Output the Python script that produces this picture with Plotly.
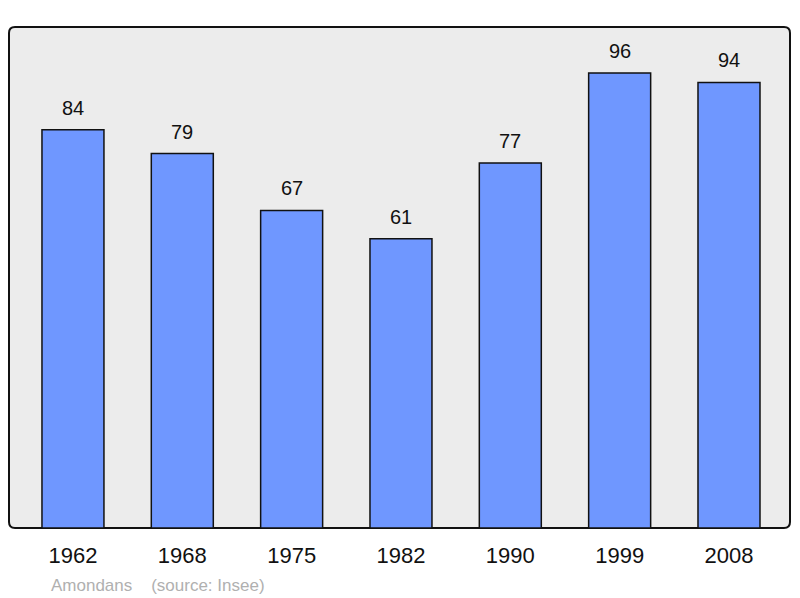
import plotly.graph_objects as go

years = ["1962", "1968", "1975", "1982", "1990", "1999", "2008"]
population = [84, 79, 67, 61, 77, 96, 94]
commune = "Amondans"
source = "(source: Insee)"

# page body has an 8px margin; shrink figure so plot sits where reference has it
OFF = 8
W, H = 800 - OFF, 598 - OFF
L, R, T, B = 9 - OFF, 10, 27 - OFF, 70
pw, ph = W - L - R, H - T - B

fig = go.Figure()
fig.add_trace(go.Bar(
    x=years, y=population, width=0.567,
    marker=dict(color="#6f97ff", line=dict(color="#111111", width=1.5)),
    hoverinfo="x+y",
))

for i, v in enumerate(population):
    fig.add_annotation(x=i, y=v, text=str(v), showarrow=False,
                       yanchor="bottom", yshift=9,
                       font=dict(size=20, color="#111111"))

# rounded plot frame
r = 6
rx, ry = r / pw, r / ph
path = (f"M {rx} 0 L {1-rx} 0 Q 1 0 1 {ry} L 1 {1-ry} Q 1 1 {1-rx} 1 "
        f"L {rx} 1 Q 0 1 0 {1-ry} L 0 {ry} Q 0 0 {rx} 0 Z")
fig.add_shape(type="path", path=path, xref="paper", yref="paper",
              fillcolor="#ececec", line=dict(color="#111111", width=2),
              layer="below")

fig.add_annotation(x=(49 - OFF - L) / pw, y=-(585 - OFF - T - ph) / ph,
                   xref="paper", yref="paper",
                   xanchor="left", yanchor="middle", showarrow=False,
                   text=f"{commune}&nbsp;&nbsp;&nbsp;&nbsp;{source}",
                   font=dict(size=17, color="#b0b0b0"))

fig.update_layout(
    width=W, height=H,
    margin=dict(l=L, r=R, t=T, b=B, pad=0),
    paper_bgcolor="white", plot_bgcolor="rgba(0,0,0,0)",
    font=dict(family="Liberation Sans, Arial, sans-serif", color="#111111"),
    showlegend=False,
    xaxis=dict(type="category", range=[-0.585, 6.558], showgrid=False, zeroline=False,
               showline=False, ticks="outside", ticklen=8, tickcolor="rgba(0,0,0,0)",
               tickfont=dict(size=22, color="#111111")),
    yaxis=dict(range=[0, 105.7], showgrid=False, zeroline=False, showline=False,
               showticklabels=False, ticks=""),
)

fig.write_html("out.html")
